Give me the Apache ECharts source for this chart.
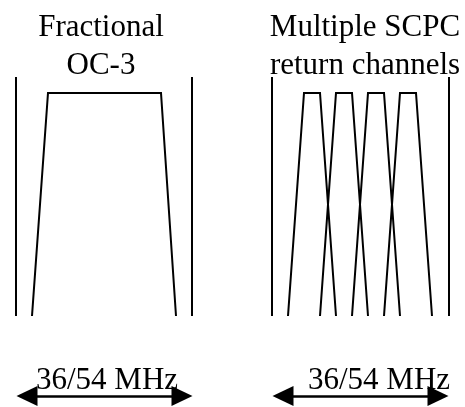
<!DOCTYPE html>
<html>
<head>
<meta charset="utf-8">
<script src="https://cdn.jsdelivr.net/npm/echarts@6/dist/echarts.min.js"></script>
<style>html,body{margin:0;padding:0;background:#fff;}#c{width:465px;height:407px;}</style>
</head>
<body>
<div id="c"></div>
<script>
// Diagram data (x = frequency position, y = level position in diagram units)
const titles = ['Fractional\nOC-3', 'Multiple SCPC\nreturn channels'];
const bandwidthLabel = '36/54 MHz';
// transponder band edges [x, yTop, yBottom]
const bandEdges = [[16, 77, 316], [192, 77, 316], [272, 77, 316], [449, 77, 316]];
// carrier spectra (trapezoids)
const carrierOC3 = [[32, 316], [48, 93], [161, 93], [176, 316]];
const carriersSCPC = [
  [[288, 316], [304, 93], [320, 93], [336, 316]],
  [[320, 316], [336, 93], [352, 93], [368, 316]],
  [[352, 316], [368, 93], [384, 93], [400, 316]],
  [[384, 316], [400, 93], [416, 93], [432, 316]]
];
// bandwidth arrows [xFrom, xTo, y]
const bandwidthArrows = [[27, 182, 396], [283, 438, 396]];

const chart = echarts.init(document.getElementById('c'), null, {renderer: 'canvas'});
const black = '#000';
const series = [];
bandEdges.forEach(e => {
  series.push({type: 'line', data: [[e[0], e[1]], [e[0], e[2]]], symbol: 'none',
    lineStyle: {color: black, width: 2}, silent: true});
});
[carrierOC3].concat(carriersSCPC).forEach(c => {
  series.push({type: 'line', data: c, symbol: 'none',
    lineStyle: {color: black, width: 2, join: 'miter'}, silent: true});
});
series.push({
  type: 'line', data: [], silent: true,
  markLine: {
    silent: true, animation: false,
    symbol: ['triangle', 'triangle'], symbolSize: [20, 21],
    label: {show: false},
    lineStyle: {color: black, width: 2.5, type: 'solid'},
    itemStyle: {color: black},
    data: bandwidthArrows.map(a => [{coord: [a[0], a[2]]}, {coord: [a[1], a[2]]}])
  }
});

const font = '"Liberation Serif", "Times New Roman", serif';
chart.setOption({
  animation: false,
  grid: {left: 0, right: 0, top: 0, bottom: 0},
  xAxis: {type: 'value', min: 0, max: 465, show: false},
  yAxis: {type: 'value', min: 0, max: 407, inverse: true, show: false},
  series: series,
  graphic: [
    {type: 'text', silent: true, style: {x: 101, y: 9, text: titles[0], font: '31px ' + font, fill: black, align: 'center', verticalAlign: 'top', lineHeight: 38}},
    {type: 'text', silent: true, style: {x: 365, y: 9, text: titles[1], font: '31px ' + font, fill: black, align: 'center', verticalAlign: 'top', lineHeight: 38}},
    {type: 'text', silent: true, style: {x: 107, y: 381, text: bandwidthLabel, font: '31px ' + font, fill: black, align: 'center', verticalAlign: 'middle'}},
    {type: 'text', silent: true, style: {x: 379, y: 381, text: bandwidthLabel, font: '31px ' + font, fill: black, align: 'center', verticalAlign: 'middle'}}
  ]
});
</script>
</body>
</html>
